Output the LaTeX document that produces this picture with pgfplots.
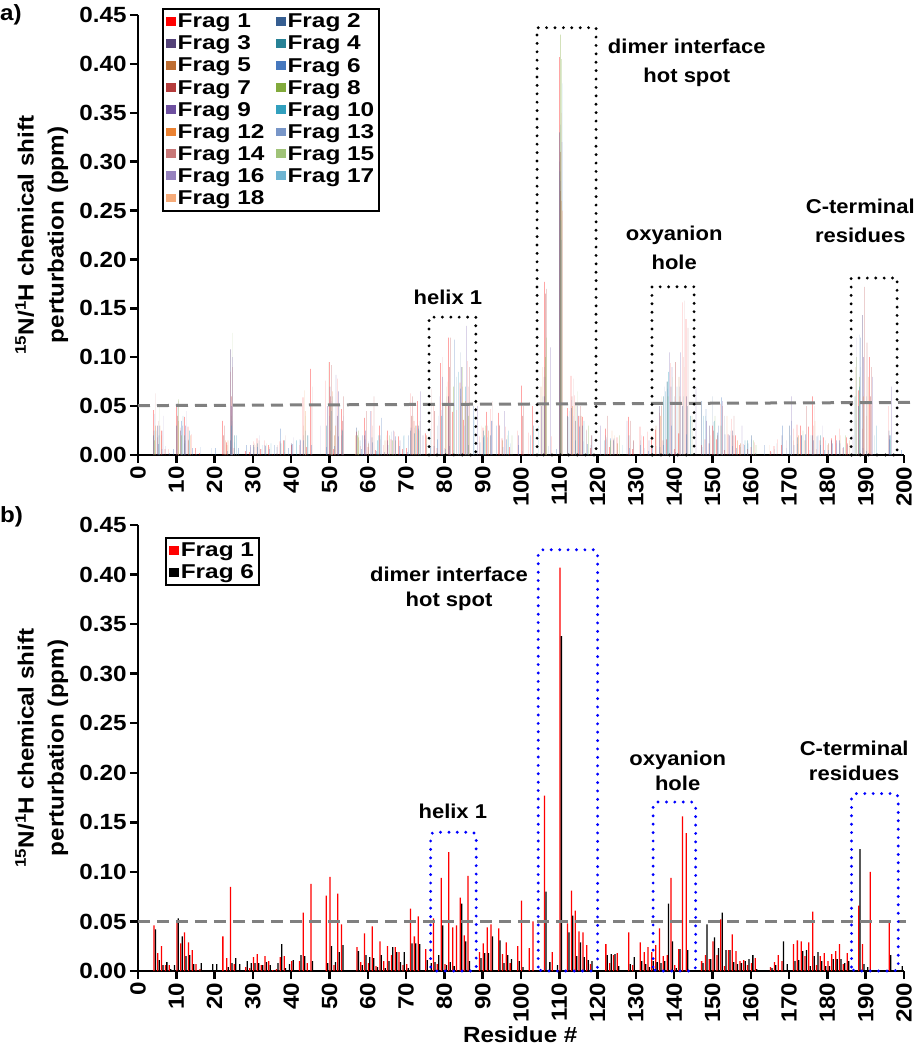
\documentclass[border=0pt]{standalone}
\usepackage{fontspec}
\setmainfont{Liberation Sans}[FakeStretch=1.1]
\newfontfamily\legfont{Liberation Sans}[FakeStretch=1.22]
\usepackage{pgfplots}
\usepackage{pgfplotstable}
\pgfplotsset{compat=1.18}

\definecolor{c1}{RGB}{255,0,0}
\definecolor{c2}{RGB}{54,94,145}
\definecolor{c3}{RGB}{84,66,120}
\definecolor{c4}{RGB}{40,130,150}
\definecolor{c5}{RGB}{190,110,50}
\definecolor{c6}{RGB}{70,120,190}
\definecolor{c7}{RGB}{180,60,60}
\definecolor{c8}{RGB}{130,170,60}
\definecolor{c9}{RGB}{110,80,160}
\definecolor{c10}{RGB}{50,160,190}
\definecolor{c12}{RGB}{235,130,50}
\definecolor{c13}{RGB}{120,150,200}
\definecolor{c14}{RGB}{200,120,120}
\definecolor{c15}{RGB}{160,195,120}
\definecolor{c16}{RGB}{150,130,190}
\definecolor{c17}{RGB}{110,180,210}
\definecolor{c18}{RGB}{245,170,120}
\definecolor{dgray}{RGB}{128,128,128}
\definecolor{dblue}{RGB}{0,0,255}

\pgfplotstableread{
res f1 f6
4 0.046 0.042
5 0.018 0.011
6 0.025 0.006
7 0.006 0.009
8 0.006 0.002
9 0.000 0.006
10 0.051 0.053
11 0.028 0.035
12 0.039 0.015
13 0.029 0.016
14 0.021 0.007
15 0.007 0.001
16 0.002 0.008
19 0.000 0.007
20 0.000 0.007
22 0.035 0.000
23 0.013 0.004
24 0.085 0.008
25 0.007 0.013
26 0.000 0.007
28 0.004 0.010
29 0.003 0.008
30 0.014 0.008
31 0.017 0.008
32 0.006 0.006
33 0.015 0.009
34 0.010 0.006
35 0.001 0.000
36 0.002 0.008
37 0.014 0.027
38 0.015 0.003
39 0.000 0.007
40 0.010 0.011
42 0.010 0.016
43 0.059 0.015
44 0.008 0.000
45 0.088 0.010
49 0.076 0.008
50 0.095 0.025
51 0.006 0.009
52 0.078 0.019
53 0.047 0.026
57 0.024 0.020
58 0.009 0.006
59 0.038 0.016
60 0.008 0.014
61 0.045 0.013
62 0.005 0.004
63 0.030 0.016
64 0.010 0.003
65 0.025 0.010
66 0.016 0.024
67 0.024 0.019
68 0.019 0.009
69 0.006 0.019
70 0.007 0.003
71 0.063 0.028
72 0.035 0.028
73 0.055 0.027
75 0.022 0.011
76 0.000 0.008
77 0.053 0.009
78 0.007 0.016
79 0.094 0.046
80 0.007 0.006
81 0.120 0.009
82 0.044 0.005
83 0.046 0.000
84 0.074 0.068
85 0.036 0.030
86 0.096 0.010
89 0.019 0.013
90 0.028 0.018
91 0.044 0.018
92 0.047 0.035
94 0.043 0.031
95 0.017 0.008
96 0.029 0.016
97 0.008 0.012
99 0.025 0.010
100 0.071 0.004
102 0.023 0.000
103 0.050 0.000
106 0.177 0.080
107 0.000 0.009
108 0.019 0.000
109 0.000 0.006
110 0.407 0.338
112 0.048 0.039
113 0.081 0.056
114 0.061 0.015
115 0.040 0.029
116 0.039 0.014
117 0.026 0.011
118 0.007 0.010
122 0.027 0.016
123 0.008 0.017
124 0.016 0.017
125 0.018 0.005
128 0.039 0.007
129 0.006 0.014
131 0.029 0.010
132 0.019 0.007
133 0.024 0.004
134 0.019 0.010
135 0.026 0.009
136 0.043 0.008
137 0.015 0.010
138 0.016 0.068
139 0.094 0.030
140 0.006 0.003
141 0.022 0.022
142 0.156 0.000
143 0.139 0.021
147 0.010 0.008
148 0.016 0.047
149 0.012 0.012
150 0.030 0.034
151 0.016 0.023
152 0.052 0.059
153 0.005 0.021
154 0.021 0.021
155 0.037 0.009
156 0.020 0.007
157 0.010 0.008
158 0.011 0.010
159 0.006 0.012
160 0.008 0.016
161 0.013 0.002
165 0.004 0.003
166 0.009 0.006
167 0.016 0.000
168 0.010 0.030
169 0.000 0.007
171 0.027 0.010
172 0.031 0.011
173 0.030 0.020
174 0.015 0.021
175 0.029 0.005
176 0.060 0.015
177 0.006 0.019
178 0.015 0.010
179 0.018 0.005
180 0.010 0.005
181 0.017 0.012
182 0.020 0.012
183 0.027 0.012
184 0.007 0.008
185 0.018 0.010
188 0.066 0.123
189 0.027 0.007
190 0.000 0.004
191 0.100 0.000
196 0.050 0.016
199 0.000 0.005
}\datab

\tikzset{
  ann/.style={font=\fontsize{20}{29}\selectfont\bfseries, align=center},
  annb/.style={font=\fontsize{20}{25}\selectfont\bfseries, align=center},
}
\pgfplotsset{
  sqleg/.style={legend image code/.code={\fill[##1] (0pt,-4pt) rectangle (10pt,4.5pt);}},
  b/.style={draw=none, fill=#1, sqleg},
  common/.style={
    scale only axis, width=766pt,
    xmin=0, xmax=200, ymin=0, ymax=0.45,
    axis x line*=bottom, axis y line*=left,
    axis line style={line width=2.5pt},
    every tick/.style={black, line width=2.5pt},
    major tick length=8pt, tick align=outside,
    xtick={0,10,...,200},
    ytick={0,0.05,0.10,0.15,0.20,0.25,0.30,0.35,0.40,0.45},
    yticklabel style={/pgf/number format/.cd, fixed, fixed zerofill, precision=2, assume math mode=true},
    xticklabel style={rotate=90, anchor=east, /pgf/number format/assume math mode=true},
    tick label style={font=\fontsize{22}{22}\selectfont\bfseries},
    label style={font=\fontsize{22}{30}\selectfont\bfseries},
    ylabel={\textsuperscript{15}N/\textsuperscript{1}H chemical shift\\perturbation (ppm)},
    ylabel style={align=center, inner sep=0pt, at={(rel axis cs:-0.091,0.5)}, anchor=south},
    clip=false,
    legend cell align=left,
    legend style={draw=black, line width=2pt, anchor=north west,
      font=\fontsize{20}{20}\selectfont\bfseries\legfont,
      nodes={inner sep=1.5pt}, inner sep=3.5pt, row sep=3.6pt,
      /tikz/every even column/.append style={column sep=10pt}},
  },
}

\begin{document}
\begin{tikzpicture}
% ---------------- panel a ----------------
\begin{axis}[common, height=440pt, at={(0,0)}, anchor=south west,
  ybar=0pt, bar width=0.045,
  x filter/.expression={x+0.42},
  legend columns=2,
  legend style={at={(0.031,1.016)}},
]
\addplot[b=c1] table[x=res,y=f1]{\datab};
\addlegendentry{Frag 1}
\addplot[b=c2] coordinates {(4,0.02) (10,0.03) (12,0.012) (24,0.015) (30,0.01) (37,0.012) (43,0.02) (50,0.04) (53,0.02) (57,0.028) (61,0.018) (71,0.025) (78,0.03) (84,0.105) (86,0.05) (92,0.02) (106,0.09) (110,0.33) (113,0.048) (116,0.03) (122,0.02) (131,0.015) (138,0.075) (140,0.06) (142,0.05) (147,0.055) (150,0.06) (153,0.04) (160,0.02) (170,0.03) (176,0.02) (183,0.015) (188,0.05) (190,0.06) (196,0.025)};
\addlegendentry{Frag 2}
\addplot[b=c3] coordinates {(5,0.03) (11,0.025) (24,0.108) (33,0.01) (40,0.012) (50,0.07) (52,0.04) (59,0.02) (65,0.015) (73,0.03) (81,0.06) (85,0.05) (91,0.03) (106,0.06) (110,0.30) (114,0.035) (124,0.015) (136,0.05) (139,0.07) (143,0.06) (149,0.03) (155,0.025) (168,0.02) (173,0.02) (181,0.015) (189,0.143) (196,0.02)};
\addlegendentry{Frag 3}
\addplot[b=c4] coordinates {(4,0.025) (12,0.02) (25,0.02) (31,0.012) (38,0.015) (44,0.02) (49,0.03) (58,0.015) (63,0.02) (72,0.022) (79,0.04) (83,0.08) (90,0.025) (103,0.03) (110,0.29) (112,0.04) (117,0.025) (128,0.02) (137,0.06) (138,0.075) (144,0.04) (148,0.04) (152,0.03) (159,0.015) (172,0.018) (178,0.02) (187,0.06) (192,0.02)};
\addlegendentry{Frag 4}
\addplot[b=c5] coordinates {(6,0.02) (13,0.015) (23,0.01) (34,0.008) (43,0.03) (51,0.02) (60,0.012) (67,0.015) (75,0.02) (80,0.05) (84,0.06) (95,0.015) (105,0.07) (110,0.27) (115,0.03) (125,0.012) (135,0.03) (141,0.08) (151,0.02) (157,0.012) (171,0.015) (180,0.012) (187,0.09) (190,0.04)};
\addlegendentry{Frag 5}
\addplot[b=c6] table[x=res,y=f6]{\datab};
\addlegendentry{Frag 6}
\addplot[b=c7] coordinates {(5,0.035) (10,0.04) (22,0.02) (24,0.06) (36,0.01) (45,0.05) (50,0.06) (53,0.035) (61,0.03) (71,0.04) (77,0.045) (81,0.09) (86,0.07) (94,0.03) (100,0.04) (106,0.165) (110,0.31) (113,0.06) (118,0.02) (129,0.015) (140,0.095) (142,0.1) (150,0.025) (155,0.02) (176,0.03) (185,0.012) (190,0.115) (191,0.06)};
\addlegendentry{Frag 7}
\addplot[b=c8] coordinates {(4,0.015) (11,0.02) (24,0.04) (37,0.012) (50,0.05) (57,0.02) (66,0.015) (73,0.025) (82,0.07) (86,0.04) (96,0.02) (106,0.1) (110,0.43) (114,0.05) (123,0.015) (138,0.06) (143,0.05) (152,0.03) (161,0.01) (174,0.015) (188,0.08) (196,0.015)};
\addlegendentry{Frag 8}
\addplot[b=c9] coordinates {(6,0.025) (12,0.03) (24,0.05) (29,0.01) (42,0.015) (49,0.05) (52,0.065) (59,0.025) (68,0.015) (74,0.02) (79,0.08) (84,0.09) (92,0.035) (99,0.02) (105,0.05) (110,0.28) (115,0.04) (122,0.018) (133,0.015) (139,0.09) (141,0.07) (148,0.035) (154,0.02) (169,0.015) (182,0.015) (189,0.1)};
\addlegendentry{Frag 9}
\addplot[b=c10] coordinates {(5,0.02) (13,0.025) (24,0.03) (32,0.01) (41,0.015) (50,0.045) (53,0.025) (62,0.015) (69,0.02) (76,0.025) (81,0.05) (85,0.07) (90,0.02) (104,0.03) (110,0.24) (116,0.035) (126,0.01) (138,0.085) (142,0.06) (150,0.035) (158,0.015) (170,0.02) (179,0.015) (188,0.07) (196,0.02)};
\addlegendentry{Frag 10}
\addplot[b=c12] coordinates {(4,0.03) (10,0.035) (23,0.015) (30,0.012) (43,0.066) (51,0.03) (57,0.018) (64,0.015) (72,0.03) (80,0.06) (85,0.055) (91,0.025) (105,0.09) (110,0.26) (113,0.05) (124,0.02) (136,0.04) (141,0.06) (149,0.02) (156,0.015) (172,0.02) (183,0.02) (189,0.06)};
\addlegendentry{Frag 12}
\addplot[b=c13] coordinates {(5,0.03) (11,0.03) (24,0.035) (35,0.01) (44,0.02) (50,0.055) (58,0.02) (63,0.038) (70,0.02) (78,0.04) (82,0.118) (87,0.05) (93,0.03) (102,0.02) (110,0.22) (112,0.045) (118,0.02) (131,0.02) (137,0.07) (143,0.05) (151,0.03) (163,0.01) (170,0.035) (177,0.02) (188,0.12) (191,0.05)};
\addlegendentry{Frag 13}
\addplot[b=c14] coordinates {(4,0.063) (10,0.055) (22,0.03) (24,0.09) (31,0.015) (38,0.02) (45,0.07) (50,0.092) (53,0.06) (59,0.045) (61,0.06) (71,0.06) (76,0.068) (79,0.1) (81,0.12) (86,0.09) (92,0.055) (100,0.05) (106,0.17) (110,0.35) (113,0.078) (115,0.05) (122,0.04) (128,0.035) (136,0.05) (142,0.158) (143,0.13) (152,0.05) (155,0.04) (174,0.05) (176,0.05) (189,0.172) (191,0.09)};
\addlegendentry{Frag 14}
\addplot[b=c15] coordinates {(5,0.05) (10,0.057) (24,0.125) (33,0.012) (43,0.04) (49,0.095) (52,0.05) (57,0.025) (65,0.02) (73,0.035) (80,0.07) (84,0.09) (90,0.03) (97,0.02) (106,0.12) (110,0.405) (114,0.065) (117,0.03) (125,0.02) (139,0.08) (144,0.04) (150,0.04) (160,0.015) (173,0.025) (184,0.02) (187,0.1)};
\addlegendentry{Frag 15}
\addplot[b=c16] coordinates {(6,0.04) (12,0.045) (24,0.1) (31,0.02) (40,0.018) (47,0.03) (51,0.082) (53,0.04) (60,0.045) (66,0.025) (73,0.065) (78,0.06) (85,0.132) (88,0.05) (95,0.045) (107,0.11) (110,0.32) (114,0.05) (120,0.03) (127,0.035) (138,0.105) (141,0.105) (145,0.07) (152,0.055) (157,0.03) (170,0.06) (178,0.03) (186,0.02) (187,0.12) (191,0.08) (196,0.07)};
\addlegendentry{Frag 16}
\addplot[b=c17] coordinates {(4,0.025) (11,0.04) (25,0.02) (34,0.012) (43,0.025) (50,0.06) (57,0.015) (62,0.02) (72,0.03) (79,0.05) (83,0.085) (87,0.04) (96,0.025) (105,0.06) (110,0.38) (113,0.04) (121,0.015) (137,0.065) (140,0.07) (147,0.04) (154,0.025) (166,0.012) (175,0.02) (188,0.09) (192,0.03)};
\addlegendentry{Frag 17}
\addplot[b=c18] coordinates {(5,0.03) (13,0.02) (22,0.015) (30,0.01) (43,0.045) (50,0.065) (56,0.02) (64,0.02) (71,0.04) (80,0.075) (84,0.07) (89,0.03) (105,0.08) (110,0.25) (115,0.04) (123,0.025) (136,0.06) (142,0.09) (153,0.04) (164,0.01) (176,0.035) (185,0.015) (190,0.08)};
\addlegendentry{Frag 18}

\draw[dgray, line width=3pt, dash pattern=on 12pt off 7pt] (axis cs:0,0.0505) -- (axis cs:203,0.0538);
\begin{scope}[black, line width=3.2pt, line cap=round, dash pattern=on 0pt off 8.4pt]
\draw (axis cs:76.0,0) rectangle (axis cs:88.2,0.141);
\draw (axis cs:104.2,0) rectangle (axis cs:119.6,0.437);
\draw (axis cs:134.2,0) rectangle (axis cs:145.2,0.172);
\draw (axis cs:186.2,0) rectangle (axis cs:198.2,0.181);
\end{scope}
\node[ann] at (axis cs:80.9,0.1616) {helix 1};
\node[ann] at (axis cs:143.3,0.401) {dimer interface\\hot spot};
\node[ann] at (axis cs:140,0.2117) {oxyanion\\hole};
\node[ann] at (axis cs:188.6,0.239) {C-terminal\\residues};
\end{axis}

% ---------------- panel b ----------------
\begin{axis}[common, height=446pt, at={(0,-516pt)}, anchor=south west,
  ybar, bar width=0.33,
  xlabel={Residue \#},
  xlabel style={at={(axis description cs:0.499,-0.143)}, anchor=center},
  legend style={at={(0.035,0.973)}},
]
\addplot[b=c1, bar shift=-0.19] table[x expr=\thisrow{res}+0.35, y=f1]{\datab};
\addlegendentry{Frag 1}
\addplot[b=black, bar shift=0.19] table[x expr=\thisrow{res}+0.35, y=f6]{\datab};
\addlegendentry{Frag 6}

\draw[dgray, line width=3pt, dash pattern=on 12pt off 7pt] (axis cs:0,0.0497) -- (axis cs:200.5,0.0497);
\begin{scope}[dblue, line width=3.2pt, line cap=round, dash pattern=on 0pt off 8.4pt, rounded corners=4pt]
\draw (axis cs:76.4,0) rectangle (axis cs:88.3,0.140);
\draw (axis cs:104.5,0) rectangle (axis cs:120.0,0.425);
\draw (axis cs:134.5,0) rectangle (axis cs:145.6,0.1705);
\draw (axis cs:186.3,0) rectangle (axis cs:198.5,0.179);
\end{scope}
\node[annb] at (axis cs:81.2,0.386) {dimer interface\\hot spot};
\node[ann] at (axis cs:82.2,0.1614) {helix 1};
\node[annb] at (axis cs:140.9,0.202) {oxyanion\\hole};
\node[annb] at (axis cs:187,0.212) {C-terminal\\residues};
\end{axis}

\node[anchor=north west, inner sep=0pt, font=\fontsize{22}{22}\selectfont\bfseries] at (-138pt,451pt) {a)};
\node[anchor=north west, inner sep=0pt, font=\fontsize{22}{22}\selectfont\bfseries] at (-138pt,-51pt) {b)};

\pgfresetboundingbox
\path (-138pt,-595pt) rectangle (777pt,455pt);
\end{tikzpicture}
\end{document}
